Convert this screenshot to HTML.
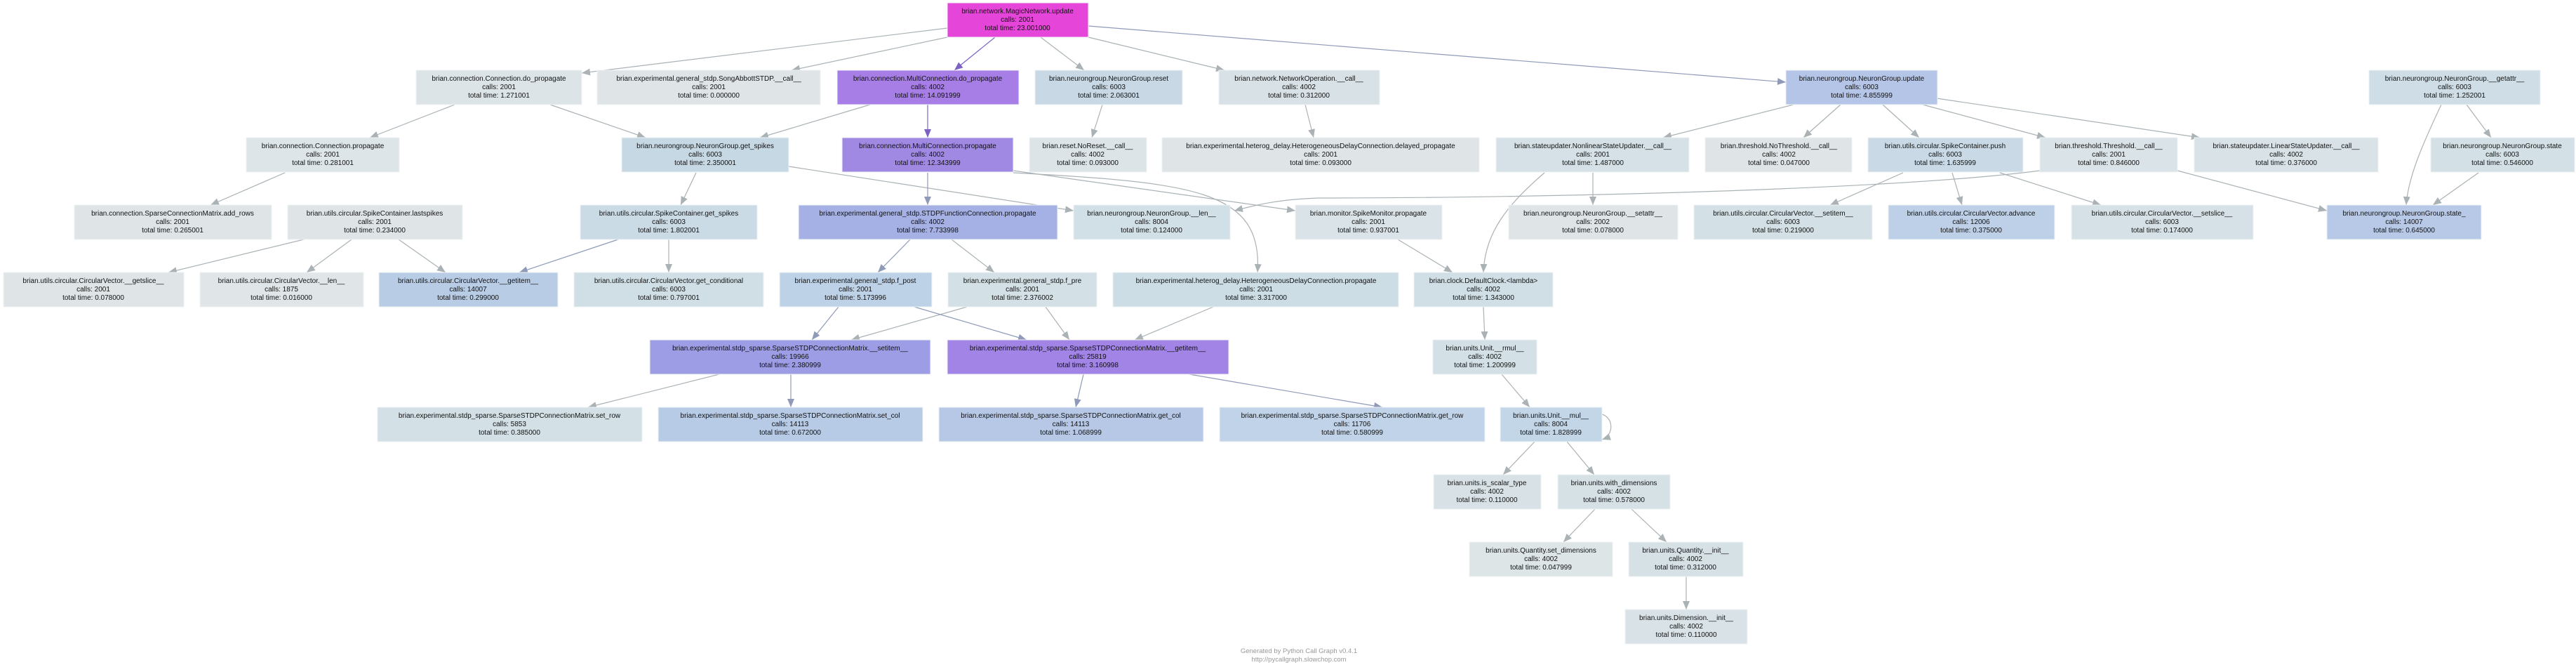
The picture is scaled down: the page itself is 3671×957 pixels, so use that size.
<!DOCTYPE html>
<html><head><meta charset="utf-8"><style>
html,body{margin:0;padding:0;background:#fff;width:3671px;height:957px;overflow:hidden}
svg text{font-family:"Liberation Sans",sans-serif;font-size:10px;fill:#111;text-anchor:middle}
</style></head><body>
<svg width="3671" height="957" viewBox="0 0 3671 957" xmlns="http://www.w3.org/2000/svg">
<defs>
<marker id="g" markerUnits="userSpaceOnUse" markerWidth="12" markerHeight="10" refX="12" refY="5" orient="auto"><path d="M0,0 L12,5 L0,10 z" fill="#aab2b6"/></marker>
<marker id="b" markerUnits="userSpaceOnUse" markerWidth="12" markerHeight="10" refX="12" refY="5" orient="auto"><path d="M0,0 L12,5 L0,10 z" fill="#8e9ab8"/></marker>
<marker id="p" markerUnits="userSpaceOnUse" markerWidth="12" markerHeight="10" refX="12" refY="5" orient="auto"><path d="M0,0 L12,5 L0,10 z" fill="#7d62c4"/></marker>
</defs>
<g fill="none" stroke-width="1.2">
<g stroke="#aab2b6" marker-end="url(#g)">
<path d="M1350,40 L829,104"/>
<path d="M1350,53 L1128,100"/>
<path d="M1483,53 L1545,100"/>
<path d="M1551,53 L1745,100"/>
<path d="M648,149 L527,196"/>
<path d="M784,149 L920,196"/>
<path d="M1240,149 L1083,196"/>
<path d="M1571,149 L1556,196"/>
<path d="M1860,149 L1872,196"/>
<path d="M2556,149 L2370,196"/>
<path d="M2623,149 L2570,196"/>
<path d="M2683,149 L2735,196"/>
<path d="M2740,149 L2915,196"/>
<path d="M2760,140 L3135,196"/>
<path d="M406,246 L300,292"/>
<path d="M992,246 L970,292"/>
<path d="M1124,237 L1530,300"/>
<path d="M1444,243 L1846,300"/>
<path d="M1444,246 C1700,260 1800,270 1792,388"/>
<path d="M2907,243 C2700,270 2200,282 1880,282 C1820,284 1790,292 1759,300"/>
<path d="M2201,246 C2150,290 2116,330 2114,388"/>
<path d="M2270,246 L2270,292"/>
<path d="M2712,246 L2608,292"/>
<path d="M2782,246 L2796,292"/>
<path d="M2850,246 L2994,292"/>
<path d="M3103,243 L3316,300"/>
<path d="M3479,149 C3455,200 3432,250 3429,292"/>
<path d="M3515,149 L3550,196"/>
<path d="M3532,246 L3467,292"/>
<path d="M433,341 L240,388"/>
<path d="M501,341 L437,388"/>
<path d="M568,341 L635,388"/>
<path d="M953,341 L953,388"/>
<path d="M1356,341 L1417,388"/>
<path d="M1992,341 L2070,388"/>
<path d="M1378,437 L1213,484"/>
<path d="M1490,437 L1524,484"/>
<path d="M1729,437 L1617,484"/>
<path d="M2114,437 L2116,484"/>
<path d="M1025,533 L838,580"/>
<path d="M2140,533 L2180,580"/>
<path d="M2283,590 C2300,595 2300,620 2283,626"/>
<path d="M2187,629 L2142,676"/>
<path d="M2233,629 L2272,676"/>
<path d="M2273,725 L2228,772"/>
<path d="M2325,725 L2375,772"/>
<path d="M2403,821 L2403,868"/>
</g>
<g stroke="#8e9ab8" marker-end="url(#b)">
<path d="M1551,37 L2545,117"/>
<path d="M881,341 L740,388"/>
<path d="M1297,341 L1251,388"/>
<path d="M1322,246 L1322,292"/>
<path d="M1195,437 L1157,484"/>
<path d="M1303,437 L1463,484"/>
<path d="M1127,533 L1127,580"/>
<path d="M1544,533 L1533,580"/>
<path d="M1695,533 L1970,580"/>
</g>
<g stroke="#7d62c4" marker-end="url(#p)">
<path d="M1418,53 L1360,100"/>
<path d="M1322,149 L1322,196"/>
</g>
</g>
<g stroke="#eef2f4" stroke-width="1">
<rect x="1350" y="4" width="201" height="49" fill="#e545d8"/>
<rect x="593" y="100" width="236" height="49" fill="#dce4e7"/>
<rect x="851" y="100" width="318" height="49" fill="#dfe5e7"/>
<rect x="1193" y="100" width="259" height="49" fill="#a77ee5"/>
<rect x="1475" y="100" width="210" height="49" fill="#c8d9e5"/>
<rect x="1737" y="100" width="229" height="49" fill="#d8e2e6"/>
<rect x="2545" y="100" width="216" height="49" fill="#b5c5e7"/>
<rect x="3376" y="100" width="244" height="49" fill="#cfdee6"/>
<rect x="351" y="196" width="218" height="49" fill="#dde5e8"/>
<rect x="886" y="196" width="238" height="49" fill="#c6d8e4"/>
<rect x="1200" y="196" width="244" height="49" fill="#a089e3"/>
<rect x="1467" y="196" width="167" height="49" fill="#dce4e7"/>
<rect x="1656" y="196" width="452" height="49" fill="#dfe5e7"/>
<rect x="2132" y="196" width="275" height="49" fill="#d5e1e6"/>
<rect x="2430" y="196" width="209" height="49" fill="#dfe5e7"/>
<rect x="2662" y="196" width="221" height="49" fill="#c9dae6"/>
<rect x="2907" y="196" width="196" height="49" fill="#dae3e7"/>
<rect x="3127" y="196" width="262" height="49" fill="#d8e2e7"/>
<rect x="3464" y="196" width="205" height="49" fill="#d3e0e6"/>
<rect x="106" y="292" width="281" height="49" fill="#dfe5e7"/>
<rect x="410" y="292" width="249" height="49" fill="#dfe5e7"/>
<rect x="827" y="292" width="252" height="49" fill="#cadbe6"/>
<rect x="1138" y="292" width="369" height="49" fill="#a5b1e5"/>
<rect x="1530" y="292" width="223" height="49" fill="#d1dfe6"/>
<rect x="1846" y="292" width="209" height="49" fill="#dae3e7"/>
<rect x="2150" y="292" width="241" height="49" fill="#dfe5e7"/>
<rect x="2414" y="292" width="254" height="49" fill="#d3e0e6"/>
<rect x="2691" y="292" width="237" height="49" fill="#bed0e8"/>
<rect x="2952" y="292" width="259" height="49" fill="#d6e1e7"/>
<rect x="3316" y="292" width="220" height="49" fill="#b8c9e7"/>
<rect x="5" y="388" width="257" height="49" fill="#dfe5e7"/>
<rect x="285" y="388" width="233" height="49" fill="#e0e6e7"/>
<rect x="540" y="388" width="255" height="49" fill="#b8cce6"/>
<rect x="818" y="388" width="270" height="49" fill="#d0dfe6"/>
<rect x="1111" y="388" width="217" height="49" fill="#bdd1e7"/>
<rect x="1351" y="388" width="212" height="49" fill="#d3e0e6"/>
<rect x="1586" y="388" width="407" height="49" fill="#ccdde6"/>
<rect x="2015" y="388" width="198" height="49" fill="#d0dfe6"/>
<rect x="926" y="484" width="400" height="49" fill="#9d9de5"/>
<rect x="1350" y="484" width="401" height="49" fill="#a184e5"/>
<rect x="2042" y="484" width="148" height="49" fill="#d3e0e6"/>
<rect x="538" y="580" width="377" height="49" fill="#d3e0e6"/>
<rect x="938" y="580" width="377" height="49" fill="#b8cbe6"/>
<rect x="1338" y="580" width="377" height="49" fill="#b7c8e6"/>
<rect x="1738" y="580" width="378" height="49" fill="#c0d3e8"/>
<rect x="2138" y="580" width="145" height="49" fill="#c3d6e8"/>
<rect x="2043" y="676" width="153" height="49" fill="#d8e2e6"/>
<rect x="2220" y="676" width="160" height="49" fill="#d6e1e6"/>
<rect x="2094" y="772" width="204" height="49" fill="#dde5e7"/>
<rect x="2321" y="772" width="163" height="49" fill="#d6e1e6"/>
<rect x="2316" y="868" width="174" height="49" fill="#d9e3e7"/>
</g>
<g>
<text x="1450" y="19">brian.network.MagicNetwork.update</text><text x="1450" y="31">calls: 2001</text><text x="1450" y="43">total time: 23.001000</text>
<text x="711" y="115">brian.connection.Connection.do_propagate</text><text x="711" y="127">calls: 2001</text><text x="711" y="139">total time: 1.271001</text>
<text x="1010" y="115">brian.experimental.general_stdp.SongAbbottSTDP.__call__</text><text x="1010" y="127">calls: 2001</text><text x="1010" y="139">total time: 0.000000</text>
<text x="1322" y="115">brian.connection.MultiConnection.do_propagate</text><text x="1322" y="127">calls: 4002</text><text x="1322" y="139">total time: 14.091999</text>
<text x="1580" y="115">brian.neurongroup.NeuronGroup.reset</text><text x="1580" y="127">calls: 6003</text><text x="1580" y="139">total time: 2.063001</text>
<text x="1851" y="115">brian.network.NetworkOperation.__call__</text><text x="1851" y="127">calls: 4002</text><text x="1851" y="139">total time: 0.312000</text>
<text x="2653" y="115">brian.neurongroup.NeuronGroup.update</text><text x="2653" y="127">calls: 6003</text><text x="2653" y="139">total time: 4.855999</text>
<text x="3498" y="115">brian.neurongroup.NeuronGroup.__getattr__</text><text x="3498" y="127">calls: 6003</text><text x="3498" y="139">total time: 1.252001</text>
<text x="460" y="211">brian.connection.Connection.propagate</text><text x="460" y="223">calls: 2001</text><text x="460" y="235">total time: 0.281001</text>
<text x="1005" y="211">brian.neurongroup.NeuronGroup.get_spikes</text><text x="1005" y="223">calls: 6003</text><text x="1005" y="235">total time: 2.350001</text>
<text x="1322" y="211">brian.connection.MultiConnection.propagate</text><text x="1322" y="223">calls: 4002</text><text x="1322" y="235">total time: 12.343999</text>
<text x="1550" y="211">brian.reset.NoReset.__call__</text><text x="1550" y="223">calls: 4002</text><text x="1550" y="235">total time: 0.093000</text>
<text x="1882" y="211">brian.experimental.heterog_delay.HeterogeneousDelayConnection.delayed_propagate</text><text x="1882" y="223">calls: 2001</text><text x="1882" y="235">total time: 0.093000</text>
<text x="2270" y="211">brian.stateupdater.NonlinearStateUpdater.__call__</text><text x="2270" y="223">calls: 2001</text><text x="2270" y="235">total time: 1.487000</text>
<text x="2535" y="211">brian.threshold.NoThreshold.__call__</text><text x="2535" y="223">calls: 4002</text><text x="2535" y="235">total time: 0.047000</text>
<text x="2772" y="211">brian.utils.circular.SpikeContainer.push</text><text x="2772" y="223">calls: 6003</text><text x="2772" y="235">total time: 1.635999</text>
<text x="3005" y="211">brian.threshold.Threshold.__call__</text><text x="3005" y="223">calls: 2001</text><text x="3005" y="235">total time: 0.846000</text>
<text x="3258" y="211">brian.stateupdater.LinearStateUpdater.__call__</text><text x="3258" y="223">calls: 4002</text><text x="3258" y="235">total time: 0.376000</text>
<text x="3566" y="211">brian.neurongroup.NeuronGroup.state</text><text x="3566" y="223">calls: 6003</text><text x="3566" y="235">total time: 0.546000</text>
<text x="246" y="307">brian.connection.SparseConnectionMatrix.add_rows</text><text x="246" y="319">calls: 2001</text><text x="246" y="331">total time: 0.265001</text>
<text x="534" y="307">brian.utils.circular.SpikeContainer.lastspikes</text><text x="534" y="319">calls: 2001</text><text x="534" y="331">total time: 0.234000</text>
<text x="953" y="307">brian.utils.circular.SpikeContainer.get_spikes</text><text x="953" y="319">calls: 6003</text><text x="953" y="331">total time: 1.802001</text>
<text x="1322" y="307">brian.experimental.general_stdp.STDPFunctionConnection.propagate</text><text x="1322" y="319">calls: 4002</text><text x="1322" y="331">total time: 7.733998</text>
<text x="1641" y="307">brian.neurongroup.NeuronGroup.__len__</text><text x="1641" y="319">calls: 8004</text><text x="1641" y="331">total time: 0.124000</text>
<text x="1950" y="307">brian.monitor.SpikeMonitor.propagate</text><text x="1950" y="319">calls: 2001</text><text x="1950" y="331">total time: 0.937001</text>
<text x="2270" y="307">brian.neurongroup.NeuronGroup.__setattr__</text><text x="2270" y="319">calls: 2002</text><text x="2270" y="331">total time: 0.078000</text>
<text x="2541" y="307">brian.utils.circular.CircularVector.__setitem__</text><text x="2541" y="319">calls: 6003</text><text x="2541" y="331">total time: 0.219000</text>
<text x="2809" y="307">brian.utils.circular.CircularVector.advance</text><text x="2809" y="319">calls: 12006</text><text x="2809" y="331">total time: 0.375000</text>
<text x="3081" y="307">brian.utils.circular.CircularVector.__setslice__</text><text x="3081" y="319">calls: 6003</text><text x="3081" y="331">total time: 0.174000</text>
<text x="3426" y="307">brian.neurongroup.NeuronGroup.state_</text><text x="3426" y="319">calls: 14007</text><text x="3426" y="331">total time: 0.645000</text>
<text x="133" y="403">brian.utils.circular.CircularVector.__getslice__</text><text x="133" y="415">calls: 2001</text><text x="133" y="427">total time: 0.078000</text>
<text x="401" y="403">brian.utils.circular.CircularVector.__len__</text><text x="401" y="415">calls: 1875</text><text x="401" y="427">total time: 0.016000</text>
<text x="667" y="403">brian.utils.circular.CircularVector.__getitem__</text><text x="667" y="415">calls: 14007</text><text x="667" y="427">total time: 0.299000</text>
<text x="953" y="403">brian.utils.circular.CircularVector.get_conditional</text><text x="953" y="415">calls: 6003</text><text x="953" y="427">total time: 0.797001</text>
<text x="1219" y="403">brian.experimental.general_stdp.f_post</text><text x="1219" y="415">calls: 2001</text><text x="1219" y="427">total time: 5.173996</text>
<text x="1457" y="403">brian.experimental.general_stdp.f_pre</text><text x="1457" y="415">calls: 2001</text><text x="1457" y="427">total time: 2.376002</text>
<text x="1790" y="403">brian.experimental.heterog_delay.HeterogeneousDelayConnection.propagate</text><text x="1790" y="415">calls: 2001</text><text x="1790" y="427">total time: 3.317000</text>
<text x="2114" y="403">brian.clock.DefaultClock.&lt;lambda&gt;</text><text x="2114" y="415">calls: 4002</text><text x="2114" y="427">total time: 1.343000</text>
<text x="1126" y="499">brian.experimental.stdp_sparse.SparseSTDPConnectionMatrix.__setitem__</text><text x="1126" y="511">calls: 19966</text><text x="1126" y="523">total time: 2.380999</text>
<text x="1550" y="499">brian.experimental.stdp_sparse.SparseSTDPConnectionMatrix.__getitem__</text><text x="1550" y="511">calls: 25819</text><text x="1550" y="523">total time: 3.160998</text>
<text x="2116" y="499">brian.units.Unit.__rmul__</text><text x="2116" y="511">calls: 4002</text><text x="2116" y="523">total time: 1.200999</text>
<text x="726" y="595">brian.experimental.stdp_sparse.SparseSTDPConnectionMatrix.set_row</text><text x="726" y="607">calls: 5853</text><text x="726" y="619">total time: 0.385000</text>
<text x="1126" y="595">brian.experimental.stdp_sparse.SparseSTDPConnectionMatrix.set_col</text><text x="1126" y="607">calls: 14113</text><text x="1126" y="619">total time: 0.672000</text>
<text x="1526" y="595">brian.experimental.stdp_sparse.SparseSTDPConnectionMatrix.get_col</text><text x="1526" y="607">calls: 14113</text><text x="1526" y="619">total time: 1.068999</text>
<text x="1927" y="595">brian.experimental.stdp_sparse.SparseSTDPConnectionMatrix.get_row</text><text x="1927" y="607">calls: 11706</text><text x="1927" y="619">total time: 0.580999</text>
<text x="2210" y="595">brian.units.Unit.__mul__</text><text x="2210" y="607">calls: 8004</text><text x="2210" y="619">total time: 1.828999</text>
<text x="2119" y="691">brian.units.is_scalar_type</text><text x="2119" y="703">calls: 4002</text><text x="2119" y="715">total time: 0.110000</text>
<text x="2300" y="691">brian.units.with_dimensions</text><text x="2300" y="703">calls: 4002</text><text x="2300" y="715">total time: 0.578000</text>
<text x="2196" y="787">brian.units.Quantity.set_dimensions</text><text x="2196" y="799">calls: 4002</text><text x="2196" y="811">total time: 0.047999</text>
<text x="2402" y="787">brian.units.Quantity.__init__</text><text x="2402" y="799">calls: 4002</text><text x="2402" y="811">total time: 0.312000</text>
<text x="2403" y="883">brian.units.Dimension.__init__</text><text x="2403" y="895">calls: 4002</text><text x="2403" y="907">total time: 0.110000</text>
<text x="1851" y="930" style="fill:#999;font-size:9.5px">Generated by Python Call Graph v0.4.1</text>
<text x="1851" y="942" style="fill:#999;font-size:9.5px">http://pycallgraph.slowchop.com</text>
</g>
</svg>
</body></html>
